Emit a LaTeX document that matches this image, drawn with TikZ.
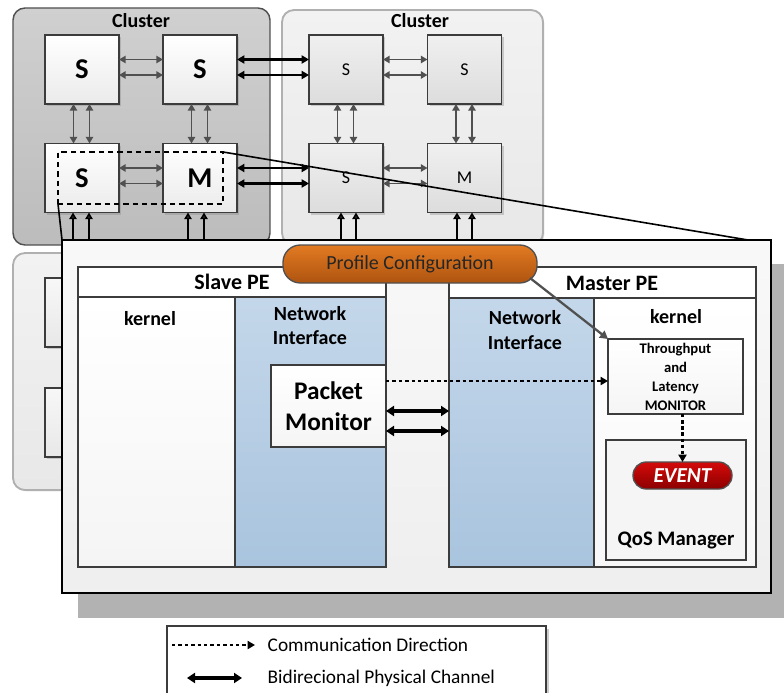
\documentclass[tikz,border=0pt]{standalone}
\usepackage{fontspec}
\setmainfont{Carlito}
\usetikzlibrary{arrows.meta,shadows,calc}

\definecolor{edgegray}{HTML}{505050}
\definecolor{nodeedge}{HTML}{3C3C3C}
\definecolor{cdtop}{HTML}{D0D0D0}
\definecolor{cdbot}{HTML}{BCBCBC}
\definecolor{cltop}{HTML}{F2F2F2}
\definecolor{clbot}{HTML}{E8E8E8}
\definecolor{clborder}{HTML}{B0B0B0}
\definecolor{nitop}{HTML}{C4D7EA}
\definecolor{nibot}{HTML}{A9C4DE}
\definecolor{pctop}{HTML}{E27A22}
\definecolor{pcbot}{HTML}{AE5410}
\definecolor{evtop}{HTML}{D40A0A}
\definecolor{evbot}{HTML}{8C0000}
\definecolor{bigshadow}{HTML}{B2B2B2}

\begin{document}
\begin{tikzpicture}[x=0.75pt,y=-0.75pt,
  sz/.style 2 args={minimum width={#1*0.75pt}, minimum height={#2*0.75pt}},
  base/.style={inner sep=0pt, outer sep=0pt},
  clusterdark/.style={base, draw=edgegray, line width=1.1pt, rounded corners=9pt,
    top color=cdtop, bottom color=cdbot},
  clusterlite/.style={base, draw=clborder, line width=1.4pt, rounded corners=9pt,
    top color=cltop, bottom color=clbot,
    drop shadow={shadow xshift=1pt, shadow yshift=-1pt, opacity=0.25}},
  title/.style={font=\fontsize{15}{15}\selectfont\bfseries},
  pebox/.style={base, draw=nodeedge, line width=1pt,
    drop shadow={shadow xshift=1.8pt, shadow yshift=-1.8pt, opacity=0.35}},
  c1node/.style={pebox, top color=white, bottom color=gray!16,
    font=\fontsize{21.5}{21.5}\selectfont\bfseries},
  c2node/.style={pebox, top color=gray!12, bottom color=gray!27,
    font=\fontsize{13.5}{13.5}\selectfont},
  c3node/.style={pebox, top color=gray!6, bottom color=gray!18},
  tipsmall/.tip={Triangle[length=5pt,width=5.5pt]},
  tiplink/.tip={Triangle[length=5.5pt,width=6pt]},
  innerarrow/.style={draw=edgegray, fill=edgegray, line width=1.35pt, tipsmall-tipsmall},
  linkarrow/.style={draw=black, line width=1.6pt, tiplink-tiplink},
  uparrow/.style={draw=black, line width=1.35pt, -{Triangle[length=5pt,width=5.5pt,fill=edgegray]}},
  zoomline/.style={draw=black, line width=1.2pt},
  panel/.style={base, draw=nodeedge, line width=1pt},
  hdrtext/.style={font=\fontsize{16.5}{16.5}\selectfont\bfseries},
  lbltext/.style={font=\fontsize{15}{18.5}\selectfont\bfseries, align=center},
  bidir/.style={draw=black, line width=2.6pt,
    {Triangle[length=6pt,width=7.5pt]}-{Triangle[length=6pt,width=7.5pt]}},
  commarrow/.style={draw=black, line width=1.4pt, dash pattern=on 2.6pt off 2.2pt,
    -{Triangle[length=5.5pt,width=6pt]}},
  dotarrow/.style={draw=black, line width=1.7pt, dash pattern=on 2.6pt off 2pt,
    -{Triangle[length=5.5pt,width=6pt]}},
  cfgarrow/.style={draw=edgegray, line width=1.7pt, -{Triangle[length=6pt,width=6.5pt]}},
  legtext/.style={anchor=west, font=\fontsize{14.5}{14.5}\selectfont}
]
\useasboundingbox (0,0) rectangle (784,692);

% ---------- clusters of the NoC ----------
\node[clusterlite, sz={257}{237}] (cl3) at (141.5,371.5) {};
\node[c3node, sz={74}{69}] (c3a) at (82,312.5) {};
\node[c3node, sz={74}{69}] (c3b) at (82,422.5) {};

\node[clusterdark, sz={257}{237}] (cl1) at (141.5,126.5) {};
\node[clusterlite, sz={261}{235}] (cl2) at (412.5,127.5) {};
\node[title] (t1) at (141,21) {Cluster};
\node[title] (t2) at (420,21) {Cluster};

\node[c1node, sz={74}{69}] (c1a) at (82,69.5) {S};
\node[c1node, sz={74}{69}] (c1b) at (200,69.5) {S};
\node[c1node, sz={74}{69}] (c1c) at (82,178) {S};
\node[c1node, sz={74}{69}] (c1d) at (200,178) {M};

\node[c2node, sz={74}{69}] (c2a) at (346,69.5) {S};
\node[c2node, sz={74}{69}] (c2b) at (464.5,69.5) {S};
\node[c2node, sz={74}{69}] (c2c) at (346,178) {S};
\node[c2node, sz={74}{69}] (c2d) at (464.5,178) {M};

% horizontal links
\foreach \dy in {-10,5.5} {
  \draw[innerarrow] ($(c1a.east)+(0,\dy)$) -- ($(c1b.west)+(0,\dy)$);
  \draw[innerarrow] ($(c1c.east)+(0,\dy)$) -- ($(c1d.west)+(0,\dy)$);
  \draw[innerarrow] ($(c2a.east)+(0,\dy)$) -- ($(c2b.west)+(0,\dy)$);
  \draw[innerarrow] ($(c2c.east)+(0,\dy)$) -- ($(c2d.west)+(0,\dy)$);
  \draw[linkarrow] ($(c1b.east)+(0,\dy)$) -- ($(c2a.west)+(0,\dy)$);
  \draw[linkarrow] ($(c1d.east)+(0,\dy)$) -- ($(c2c.west)+(0,\dy)$);
}
% vertical links
\foreach \dx in {-8.5,7.5} {
  \draw[innerarrow] ($(c1a.south)+(\dx,0)$) -- ($(c1c.north)+(\dx,0)$);
  \draw[innerarrow] ($(c1b.south)+(\dx,0)$) -- ($(c1d.north)+(\dx,0)$);
  \draw[innerarrow] ($(c2a.south)+(\dx,0)$) -- ($(c2c.north)+(\dx,0)$);
  \draw[innerarrow] ($(c2b.south)+(\dx,0)$) -- ($(c2d.north)+(\dx,0)$);
}
% links coming up from the lower row of clusters
\coordinate (u1) at (82,250);
\coordinate (u2) at (200,250);
\coordinate (u3) at (346,250);
\coordinate (u4) at (464.5,250);
\foreach \dx in {-9,7} \draw[uparrow] ($(u1)+(\dx,0)$) -- ($(c1c.south)+(\dx,0)$);
\foreach \dx in {-12,4} \draw[uparrow] ($(u2)+(\dx,0)$) -- ($(c1d.south)+(\dx,0)$);
\foreach \dx in {-5,10} \draw[uparrow] ($(u3)+(\dx,0)$) -- ($(c2c.south)+(\dx,0)$);
\foreach \dx in {-7.5,7.5} \draw[uparrow] ($(u4)+(\dx,0)$) -- ($(c2d.south)+(\dx,0)$);

% selected slave/master pair
\node[base, draw=black, line width=1.2pt, dash pattern=on 4pt off 3pt, sz={165}{52}] (sel) at (140.5,178) {};

% ---------- zoomed view ----------
\fill[bigshadow] (78,264) rectangle (790,618);
\node[base, draw=black, line width=1.3pt, top color=gray!5, bottom color=gray!13, sz={709}{353}] (bb) at (416.5,416.5) {};

\coordinate (zr) at (748,240);
\draw[zoomline] (sel.north east) -- (zr);
\draw[zoomline] (sel.south west) -- (bb.north west);

% slave PE
\node[panel, fill=white, sz={308}{30}] (sph) at (232,282) {};
\node[panel, top color=white, bottom color=gray!8, sz={157}{270}] (sk) at (156.5,432) {};
\node[panel, top color=nitop, bottom color=nibot, sz={151}{270}] (sni) at (310.5,432) {};
\node[hdrtext] (spht) at (232,282) {Slave PE};
\node[lbltext] (skt) at (150,319) {kernel};
\node[lbltext] (snit) at (310,325.5) {Network\\Interface};
\node[panel, top color=white, bottom color=gray!8, sz={115}{82},
      font=\fontsize{19}{23}\selectfont\bfseries, align=center] (pm) at (328.5,406) {Packet\\Monitor};

% master PE
\node[panel, fill=white, sz={307}{31}] (mph) at (602.5,282.5) {};
\node[panel, top color=nitop, bottom color=nibot, sz={145}{269}] (mni) at (521.5,432.5) {};
\node[panel, top color=white, bottom color=gray!6, sz={162}{269}] (mk) at (675,432.5) {};
\node[hdrtext] (mpht) at (612,283) {Master PE};
\node[lbltext] (mnit) at (525,330) {Network\\Interface};
\node[lbltext] (mkt) at (676,317) {kernel};
\node[panel, top color=white, bottom color=gray!8, sz={135}{75},
      font=\fontsize{11}{14.2}\selectfont\bfseries, align=center] (tp) at (675.5,376.5)
      {Throughput\\and\\Latency\\MONITOR};
\node[panel, fill=gray!8, sz={140}{120}] (qos) at (676,500) {};
\node[font=\fontsize{15.5}{15.5}\selectfont\bfseries] (qost) at (676,540) {QoS Manager};
\node[base, draw=edgegray, line width=1pt, rounded corners=10pt, top color=evtop, bottom color=evbot,
      sz={99}{27}, text=white, font=\fontsize{16}{16}\selectfont\bfseries\itshape] (ev) at (682.5,475.5) {EVENT};

% profile configuration
\node[base, draw=edgegray, line width=1pt, rounded corners=13pt, top color=pctop, bottom color=pcbot,
      sz={254}{38}, font=\fontsize{15}{15}\selectfont, text=black!85] (pc) at (410,264) {Profile Configuration};

% connections inside the PEs
\coordinate (pcout) at ($(pc.south east)+(-7,-5)$);
\coordinate (pmc) at ($(pm.east)+(0,-25)$);
\coordinate (pmb1) at ($(pm.east)+(0,5)$);
\coordinate (pmb2) at ($(pm.east)+(0,25)$);
\coordinate (tpout) at (tp.south -| ev.north);
\draw[cfgarrow] (pcout) -- (tp.north west);
\draw[commarrow] (pmc) -- (pmc -| tp.west);
\draw[bidir] (pmb1) -- (pmb1 -| mni.west);
\draw[bidir] (pmb2) -- (pmb2 -| mni.west);
\draw[dotarrow] (tpout) -- (ev.north);

% ---------- legend ----------
\node[base, draw=nodeedge, line width=1pt, fill=white, sz={379}{76},
      drop shadow={shadow xshift=2.5pt, shadow yshift=-2.5pt, opacity=0.4}] (lg) at (356.5,664) {};
\coordinate (la1) at (172,645);
\coordinate (la2) at (255,645);
\coordinate (lb1) at (187,678);
\coordinate (lb2) at (242,678);
\draw[commarrow] (la1) -- (la2);
\draw[bidir] (lb1) -- (lb2);
\node[legtext] (lat) at (263,645) {Communication Direction};
\node[legtext] (lbt) at (263,678) {Bidirecional Physical Channel};
\end{tikzpicture}
\end{document}
